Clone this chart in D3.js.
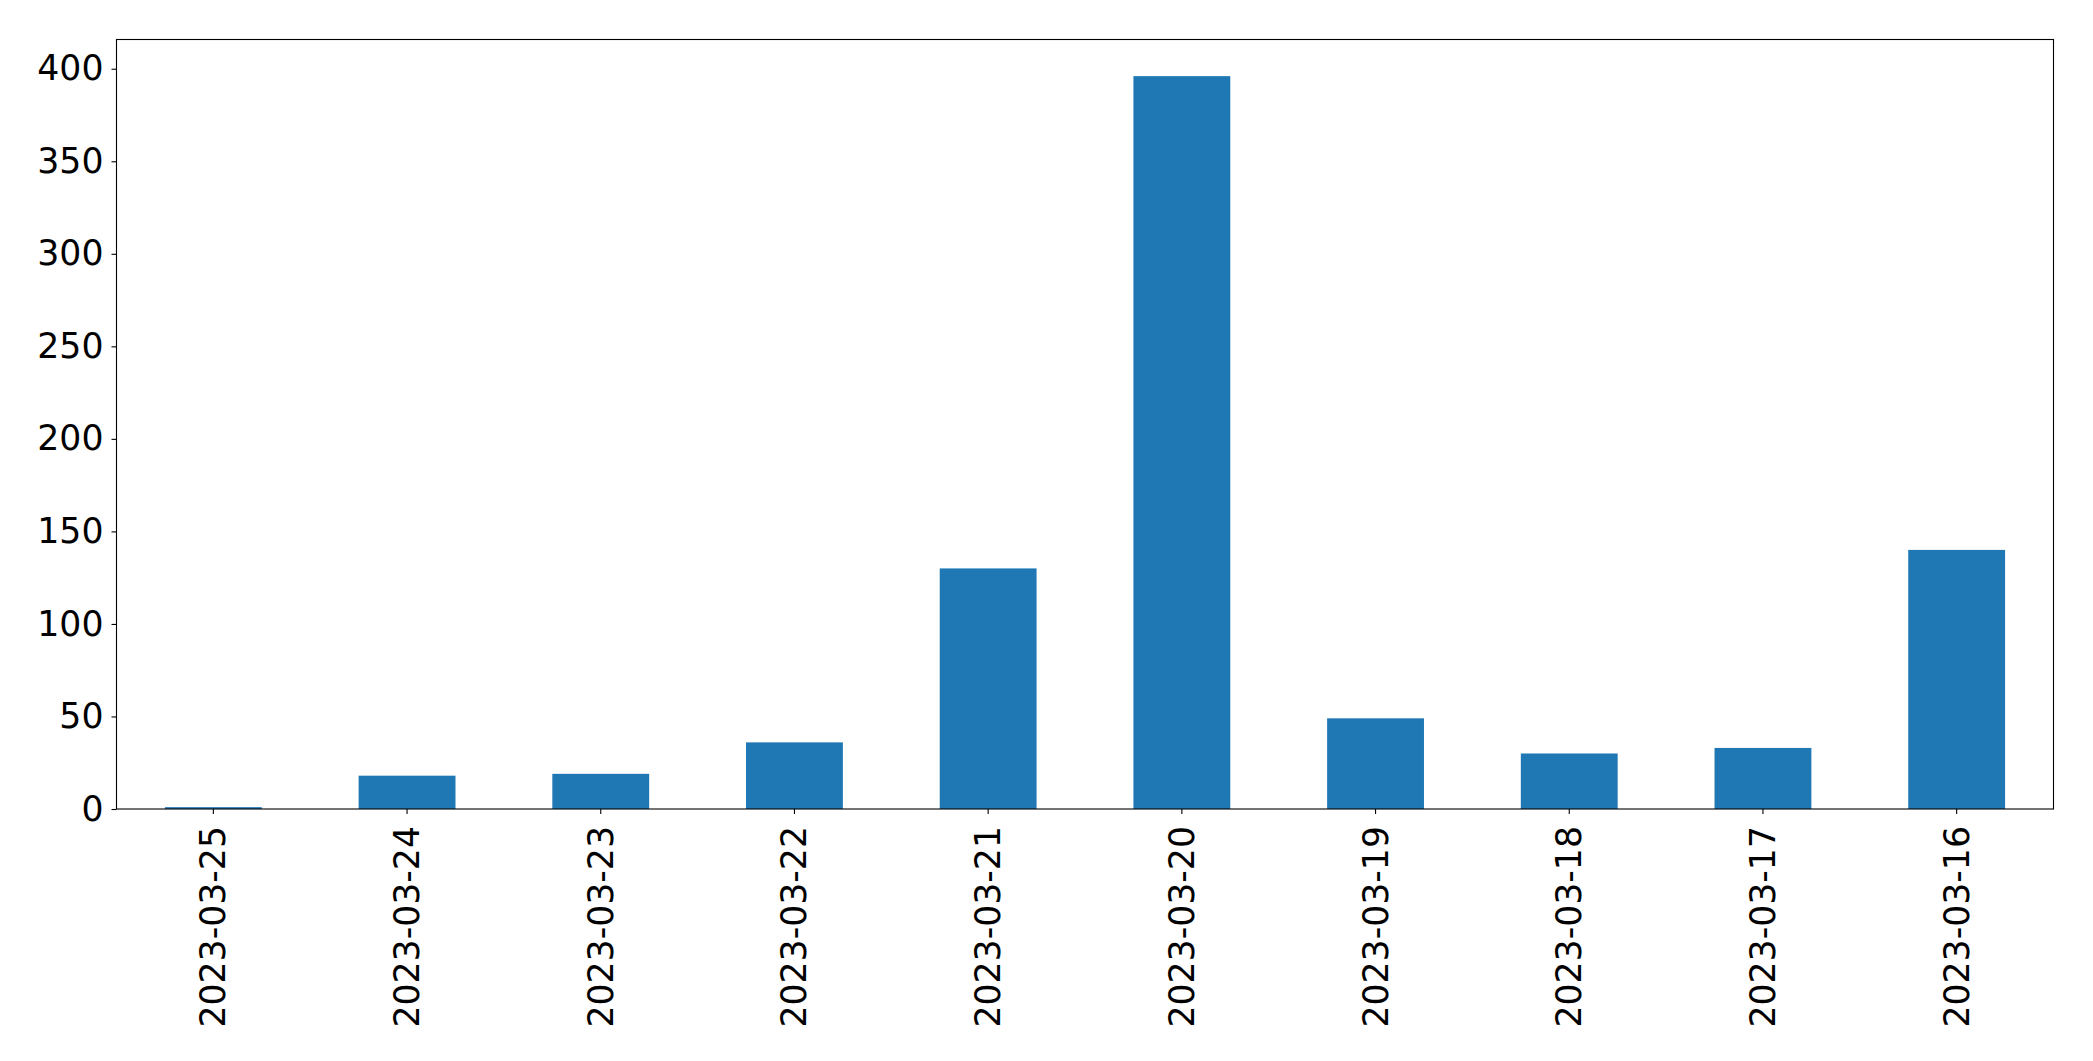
<!DOCTYPE html>
<html>
<head>
<meta charset="utf-8">
<script src="https://cdn.jsdelivr.net/npm/d3@7"></script>
<style>
  html, body { margin: 0; padding: 0; background: #fff; }
  svg { display: block; }
  text { font-family: "DejaVu Sans", sans-serif; }
</style>
</head>
<body>
<svg id="chart" width="2093" height="1061"></svg>
<script>
const categories = ["2023-03-25","2023-03-24","2023-03-23","2023-03-22","2023-03-21","2023-03-20","2023-03-19","2023-03-18","2023-03-17","2023-03-16"];
const values = [1, 18, 19, 36, 130, 396, 49, 30, 33, 140];
const yTicks = [0, 50, 100, 150, 200, 250, 300, 350, 400];

const W = 2093, H = 1061;
const margin = { left: 116.5, right: W - 2053.5, top: 39.5, bottom: H - 809 };
const svg = d3.select("#chart");
const pw = W - margin.left - margin.right;
const ph = H - margin.top - margin.bottom;
const g = svg.append("g").attr("transform", `translate(${margin.left},${margin.top})`);

const x = d3.scaleBand().domain(categories).range([0, pw]).paddingInner(0.5).paddingOuter(0.25);
const y = d3.scaleLinear().domain([0, 396 * 1.05]).range([ph, 0]);

g.selectAll("rect.bar").data(values).join("rect")
  .attr("class", "bar")
  .attr("x", (d, i) => x(categories[i]))
  .attr("width", x.bandwidth())
  .attr("y", d => y(d))
  .attr("height", d => ph - y(d))
  .attr("fill", "#1f77b4");

const fontSize = 34.7;
const yAxis = g.append("g")
  .call(d3.axisLeft(y).tickValues(yTicks).tickSize(5).tickPadding(8).tickFormat(d3.format("d")));
yAxis.select(".domain").remove();
yAxis.selectAll("text").attr("font-size", fontSize).attr("fill", "#000").attr("font-family", "DejaVu Sans");
yAxis.selectAll("line").attr("stroke", "#000").attr("stroke-width", 1.1);

const xAxis = g.append("g").attr("transform", `translate(0,${ph})`)
  .call(d3.axisBottom(x).tickSize(5).tickPadding(0));
xAxis.select(".domain").remove();
xAxis.selectAll("line").attr("stroke", "#000").attr("stroke-width", 1.1);
xAxis.selectAll("text")
  .attr("font-size", fontSize)
  .attr("fill", "#000")
  .attr("font-family", "DejaVu Sans")
  .attr("text-anchor", "end")
  .attr("dy", null)
  .attr("y", 0)
  .attr("x", 0)
  .attr("transform", "translate(0,17) rotate(-90)")
  .attr("dominant-baseline", "central");

g.append("rect")
  .attr("x", 0).attr("y", 0).attr("width", pw).attr("height", ph)
  .attr("fill", "none").attr("stroke", "#000").attr("stroke-width", 1.1);
</script>
</body>
</html>
